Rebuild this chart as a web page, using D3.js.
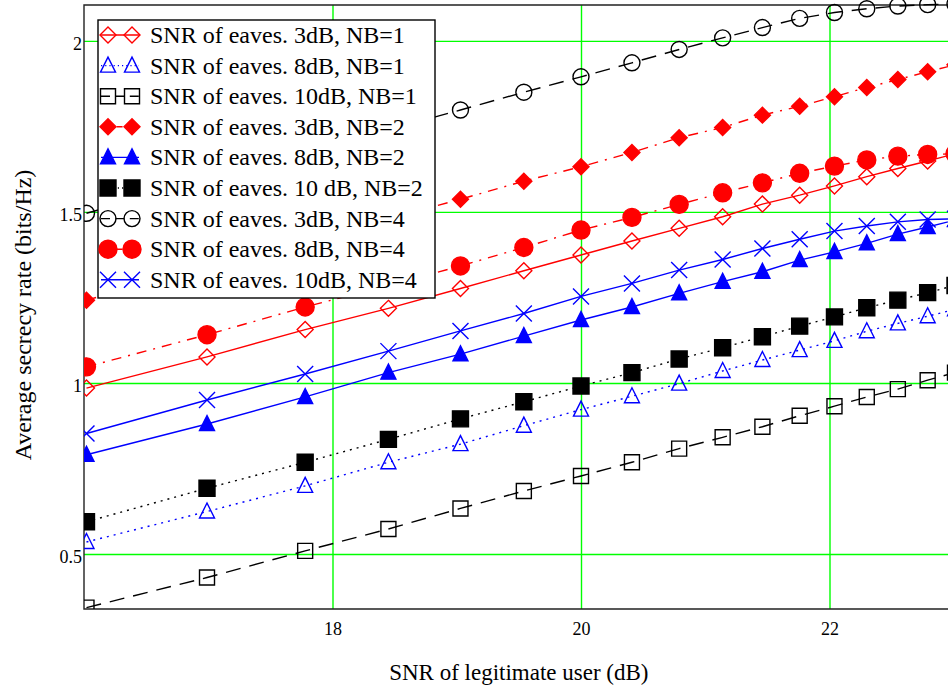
<!DOCTYPE html>
<html>
<head>
<meta charset="utf-8">
<script src="https://cdn.jsdelivr.net/npm/d3@7"></script>
<style>
  body { margin: 0; background: #fff; }
  svg { display: block; font-family: "Liberation Serif", "Times New Roman", serif; }
</style>
</head>
<body>
<div id="chart"></div>
<script>
// SNR of legitimate user, dB
const snrDb = [16.02, 16.99, 17.78, 18.45, 19.03, 19.54, 20.00, 20.41, 20.79, 21.14, 21.46, 21.76, 22.04, 22.30, 22.55, 22.79, 23.01]

const xTicks = [18, 20, 22]
const yTicks = [0.5, 1, 1.5, 2]

const legendLabels = [
  'SNR of eaves. 3dB, NB=1',
  'SNR of eaves. 8dB, NB=1',
  'SNR of eaves. 10dB, NB=1',
  'SNR of eaves. 3dB, NB=2',
  'SNR of eaves. 8dB, NB=2',
  'SNR of eaves. 10 dB, NB=2',
  'SNR of eaves. 3dB, NB=4',
  'SNR of eaves. 8dB, NB=4',
  'SNR of eaves. 10dB, NB=4'
]

// average secrecy rate (bits/Hz)
const rate3dBNB1 = [0.985, 1.076, 1.156, 1.218, 1.276, 1.328, 1.374, 1.415, 1.452, 1.486, 1.523, 1.549, 1.576, 1.603, 1.627, 1.649, 1.670]
const rate8dBNB1 = [0.535, 0.624, 0.699, 0.768, 0.821, 0.875, 0.922, 0.961, 0.998, 1.035, 1.067, 1.096, 1.123, 1.151, 1.174, 1.195, 1.215]
const rate10dBNB1 = [0.343, 0.431, 0.509, 0.573, 0.633, 0.684, 0.728, 0.768, 0.808, 0.841, 0.872, 0.904, 0.932, 0.959, 0.982, 1.008, 1.030]
const rate3dBNB2 = [1.242, 1.340, 1.415, 1.480, 1.537, 1.590, 1.632, 1.674, 1.717, 1.747, 1.783, 1.809, 1.837, 1.864, 1.887, 1.910, 1.930]
const rate8dBNB2 = [0.790, 0.880, 0.959, 1.030, 1.084, 1.137, 1.184, 1.222, 1.262, 1.296, 1.325, 1.359, 1.383, 1.408, 1.435, 1.456, 1.476]
const rate10dBNB2 = [0.594, 0.692, 0.768, 0.835, 0.895, 0.945, 0.991, 1.030, 1.070, 1.103, 1.135, 1.166, 1.193, 1.220, 1.242, 1.264, 1.285]
const rate3dBNB4 = [1.496, 1.595, 1.673, 1.740, 1.798, 1.850, 1.895, 1.936, 1.975, 2.009, 2.039, 2.066, 2.083, 2.094, 2.102, 2.106, 2.108]
const rate8dBNB4 = [1.047, 1.141, 1.222, 1.285, 1.342, 1.396, 1.447, 1.484, 1.522, 1.556, 1.585, 1.613, 1.634, 1.652, 1.663, 1.668, 1.670]
const rate10dBNB4 = [0.852, 0.950, 1.026, 1.093, 1.152, 1.203, 1.253, 1.291, 1.330, 1.361, 1.393, 1.420, 1.444, 1.459, 1.471, 1.478, 1.480]

// line / marker styles, same order as the legend
const styles = [
  { values: rate3dBNB1, color: 'red', dash: null, marker: 'diamond', filled: false },
  { values: rate8dBNB1, color: 'blue', dash: '2,5', marker: 'triangle', filled: false },
  { values: rate10dBNB1, color: 'black', dash: '15,9', marker: 'square', filled: false },
  { values: rate3dBNB2, color: 'red', dash: '10,7,2,7', marker: 'diamond', filled: true },
  { values: rate8dBNB2, color: 'blue', dash: null, marker: 'triangle', filled: true },
  { values: rate10dBNB2, color: 'black', dash: '2,5', marker: 'square', filled: true },
  { values: rate3dBNB4, color: 'black', dash: '15,9', marker: 'circle', filled: false },
  { values: rate8dBNB4, color: 'red', dash: '10,7,2,7', marker: 'circle', filled: true },
  { values: rate10dBNB4, color: 'blue', dash: null, marker: 'cross', filled: false }
]

const width = 948, height = 688
const plot = { left: 84, right: 953.75, top: 5, bottom: 609 }

function markerPath(type, filled) {
  if (type === 'diamond') {
    const r = 8
    return 'M0,' + (-r) + 'L' + r + ',0L0,' + r + 'L' + (-r) + ',0Z'
  }
  if (type === 'triangle') {
    return 'M0,-8.5L7.5,6.5L-7.5,6.5Z'
  }
  if (type === 'square') {
    const r = filled ? 8 : 7.5
    return 'M' + (-r) + ',' + (-r) + 'H' + r + 'V' + r + 'H' + (-r) + 'Z'
  }
  if (type === 'circle') {
    const r = filled ? 9 : 8
    return 'M' + r + ',0A' + r + ',' + r + ' 0 1,1 ' + (-r) + ',0A' + r + ',' + r + ' 0 1,1 ' + r + ',0Z'
  }
  // cross
  const r = 8
  return 'M' + (-r) + ',' + (-r) + 'L' + r + ',' + r + 'M' + (-r) + ',' + r + 'L' + r + ',' + (-r)
}

const svg = d3.select('#chart').append('svg')
  .attr('width', width)
  .attr('height', height)

const xScale = d3.scaleLinear().domain([16, 23]).range([plot.left, plot.right])
const yScale = d3.scaleLinear().domain([0.339, 2.105]).range([plot.bottom, plot.top])

svg.append('defs').append('clipPath').attr('id', 'plotclip')
  .append('rect')
  .attr('x', plot.left)
  .attr('y', 0)
  .attr('width', plot.right - plot.left)
  .attr('height', plot.bottom)

// grid + tick labels
const xAxis = svg.append('g')
  .attr('transform', 'translate(0,' + plot.bottom + ')')
  .call(d3.axisBottom(xScale)
    .tickValues(xTicks)
    .tickFormat(d3.format('d'))
    .tickSize(-(plot.bottom - plot.top))
    .tickPadding(13))
xAxis.select('.domain').remove()
xAxis.selectAll('line').attr('stroke', '#00ff00').attr('stroke-width', 1.4)
xAxis.selectAll('text').attr('fill', '#000').attr('font-size', 18)
  .attr('font-family', '"Liberation Serif", "Times New Roman", serif')

const yAxis = svg.append('g')
  .attr('transform', 'translate(' + plot.left + ',0)')
  .call(d3.axisLeft(yScale)
    .tickValues(yTicks)
    .tickFormat(d3.format('~g'))
    .tickSize(-(plot.right - plot.left))
    .tickPadding(2))
yAxis.select('.domain').remove()
yAxis.selectAll('line').attr('stroke', '#00ff00').attr('stroke-width', 1.4)
yAxis.selectAll('text').attr('fill', '#000').attr('font-size', 18).attr('dy', '0.45em')
  .attr('font-family', '"Liberation Serif", "Times New Roman", serif')

// axes frame
svg.append('path')
  .attr('d', 'M' + plot.right + ',' + plot.top + 'H' + plot.left + 'V' + plot.bottom + 'H' + plot.right)
  .attr('fill', 'none')
  .attr('stroke', '#222')
  .attr('stroke-width', 1.4)

// series
const line = d3.line()
  .x(function(d) { return xScale(d[0]) })
  .y(function(d) { return yScale(d[1]) })

const seriesG = svg.append('g').attr('clip-path', 'url(#plotclip)')

styles.forEach(function(s) {
  const pts = s.values.map(function(v, i) { return [snrDb[i], v] })
  seriesG.append('path')
    .datum(pts)
    .attr('d', line)
    .attr('fill', 'none')
    .attr('stroke', s.color)
    .attr('stroke-width', 1.4)
    .attr('stroke-dasharray', s.dash)
  seriesG.append('g')
    .selectAll('path')
    .data(pts)
    .enter()
    .append('path')
    .attr('transform', function(d) { return 'translate(' + xScale(d[0]) + ',' + yScale(d[1]) + ')' })
    .attr('d', markerPath(s.marker, s.filled))
    .attr('fill', s.filled ? s.color : 'none')
    .attr('stroke', s.color)
    .attr('stroke-width', 1.4)
})

// legend
const legend = svg.append('g')
legend.append('rect')
  .attr('x', 98)
  .attr('y', 20)
  .attr('width', 337)
  .attr('height', 278)
  .attr('fill', '#fff')
  .attr('stroke', '#000')
  .attr('stroke-width', 1.4)

const rows = legend.selectAll('g.row')
  .data(styles)
  .enter()
  .append('g')
  .attr('class', 'row')
  .attr('transform', function(d, i) { return 'translate(0,' + (35 + i * 30.6) + ')' })

rows.append('line')
  .attr('x1', 101).attr('x2', 139)
  .attr('stroke', function(d) { return d.color })
  .attr('stroke-width', 1.4)
  .attr('stroke-dasharray', function(d) { return d.dash ? d.dash.split(',').map(function(v) { return v * 0.6 }).join(',') : null })

rows.selectAll('path')
  .data(function(d) { return [[108, d], [132, d]] })
  .enter()
  .append('path')
  .attr('transform', function(d) { return 'translate(' + d[0] + ',0)' })
  .attr('d', function(d) { return markerPath(d[1].marker, d[1].filled) })
  .attr('fill', function(d) { return d[1].filled ? d[1].color : 'none' })
  .attr('stroke', function(d) { return d[1].color })
  .attr('stroke-width', 1.4)

rows.append('text')
  .attr('x', 150)
  .attr('y', 8)
  .attr('font-size', 24)
  .text(function(d, i) { return legendLabels[i] })

// axis titles
svg.append('text')
  .attr('x', (plot.left + plot.right) / 2)
  .attr('y', 680)
  .attr('text-anchor', 'middle')
  .attr('font-size', 23)
  .text('SNR of legitimate user (dB)')

svg.append('text')
  .attr('transform', 'translate(31,' + ((plot.top + plot.bottom) / 2 + 8) + ') rotate(-90)')
  .attr('text-anchor', 'middle')
  .attr('font-size', 24)
  .text('Average secrecy rate (bits/Hz)')
</script>
</body>
</html>
